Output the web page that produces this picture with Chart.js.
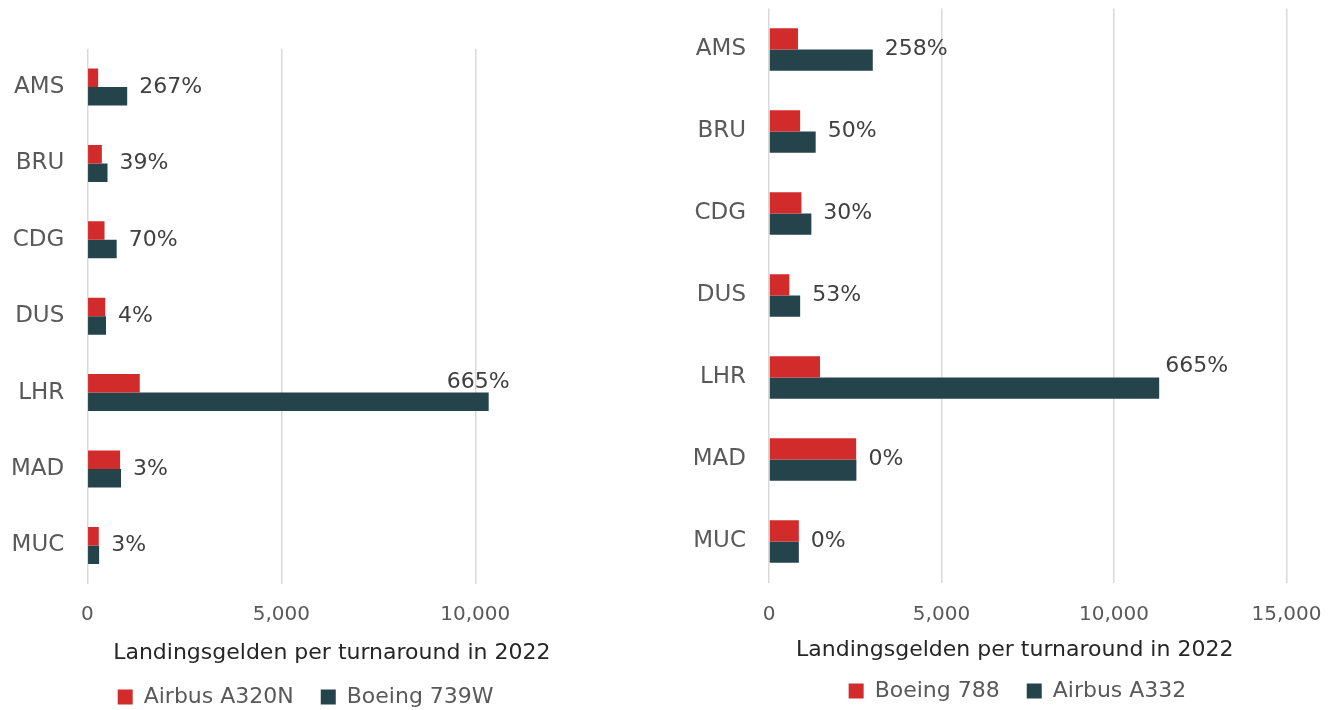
<!DOCTYPE html>
<html><head><meta charset="utf-8">
<script src="https://cdn.jsdelivr.net/npm/chart.js@4"></script>
<style>
html,body{margin:0;padding:0;background:#fff;overflow:hidden;width:1333px;height:710px;}
canvas{position:absolute;top:0;}
#c1{left:0;}
#c2{left:655px;}
</style></head><body>
<canvas id="c1" width="620" height="710"></canvas>
<canvas id="c2" width="678" height="710"></canvas>
<script>
// ---- data ----
const airports = ['AMS','BRU','CDG','DUS','LHR','MAD','MUC'];
const axisTitle = 'Landingsgelden per turnaround in 2022';

const narrowSeries = ['Airbus A320N','Boeing 739W'];
const narrowA320N = [280, 375, 444, 463, 1352, 845, 296];
const narrow739W = [1028, 521, 757, 482, 10345, 870, 305];
const narrowLabels = ['267%','39%','70%','4%','665%','3%','3%'];
const narrowTicks = [0, 5000, 10000];
const narrowMax = 12500;

const wideSeries = ['Boeing 788','Airbus A332'];
const wide788 = [840, 902, 940, 590, 1478, 2527, 865];
const wideA332 = [3008, 1353, 1228, 903, 11310, 2533, 865];
const wideLabels = ['258%','50%','30%','53%','665%','0%','0%'];
const wideTicks = [0, 5000, 10000, 15000];
const wideMax = 15000;

// ---- style ----
const RED = '#D22B2B';
const DARK = '#25434A';
const FONT = '"DejaVu Sans"';

const pctLabels = {
  id: 'pctLabels',
  afterLayout(chart, args, opts) {
    if (chart.legend && opts.legendDx) {
      chart.legend.left += opts.legendDx;
      chart.legend.right += opts.legendDx;
    }
    const sx = chart.scales.x;
    if (opts.titleDx && !sx._shifted) {
      const orig = sx.drawTitle;
      sx.drawTitle = function () {
        const ctx = this.ctx;
        ctx.save();
        ctx.translate(opts.titleDx, 0);
        orig.apply(this, arguments);
        ctx.restore();
      };
      sx._shifted = true;
    }
  },
  afterDatasetsDraw(chart, args, opts) {
    const ctx = chart.ctx;
    const m0 = chart.getDatasetMeta(0), m1 = chart.getDatasetMeta(1);
    const d0 = chart.data.datasets[0].data, d1 = chart.data.datasets[1].data;
    let maxI = 0;
    d1.forEach((v, i) => { if (Math.max(v, d0[i]) > Math.max(d1[maxI], d0[maxI])) maxI = i; });
    ctx.save();
    ctx.font = opts.size + 'px ' + FONT;
    ctx.fillStyle = opts.color;
    ctx.textBaseline = 'middle';
    opts.texts.forEach((t, i) => {
      const a = m0.data[i], b = m1.data[i];
      const end = Math.max(a.x, b.x);
      let x, y;
      if (i === maxI) {
        y = a.y - 1;
        ctx.textAlign = opts.outlierAlign;
        x = end + opts.outlierDx;
      } else {
        y = (a.y + b.y) / 2;
        ctx.textAlign = 'left';
        x = end + opts.pad;
      }
      ctx.fillText(t, x, y);
    });
    ctx.restore();
  }
};

function makeChart(id, c) {
  return new Chart(document.getElementById(id), {
    type: 'bar',
    data: {
      labels: airports,
      datasets: [
        { label: c.series[0], data: c.a, backgroundColor: RED, barPercentage: 1, categoryPercentage: c.cat },
        { label: c.series[1], data: c.b, backgroundColor: DARK, barPercentage: 1, categoryPercentage: c.cat }
      ]
    },
    plugins: [pctLabels],
    options: {
      indexAxis: 'y',
      responsive: false,
      animation: false,
      devicePixelRatio: 1,
      layout: { padding: { left: 0, right: c.pr, top: c.pt, bottom: c.pb } },
      scales: {
        x: {
          type: 'linear', min: 0, max: c.max,
          afterBuildTicks: s => { s.ticks = c.ticks.map(v => ({ value: v })); },
          ticks: { callback: v => v.toLocaleString('en-US'), color: '#595959', font: { size: 20, family: FONT }, padding: c.tickPad, maxRotation: 0, autoSkip: false },
          grid: { color: '#D9D9D9', lineWidth: 1.5, drawTicks: false },
          border: { display: false },
          title: { display: true, text: axisTitle, color: '#262626', font: { size: 22, family: FONT }, padding: { top: 0, bottom: c.tpb } },
          afterFit: s => { s.height = c.xh; s.paddingLeft = 0; s.paddingRight = 0; }
        },
        y: {
          grid: { display: false, drawTicks: false },
          border: { display: false },
          ticks: { color: '#595959', font: { size: 23, family: FONT }, padding: 23 },
          afterFit: s => { s.width = c.yw; s.paddingTop = 0; s.paddingBottom = 0; }
        }
      },
      plugins: {
        legend: {
          position: 'bottom',
          labels: { color: '#595959', font: { size: 22, family: FONT }, boxWidth: 15, boxHeight: 15, padding: 27 }
        },
        tooltip: { enabled: false },
        pctLabels: { texts: c.labels, size: 22, color: '#404040', pad: 12, outlierAlign: c.oAlign, outlierDx: c.oDx, legendDx: c.ldx, titleDx: c.tdx }
      }
    }
  });
}

makeChart('c1', {
  series: narrowSeries, a: narrowA320N, b: narrow739W, labels: narrowLabels,
  ticks: narrowTicks, max: narrowMax, cat: 0.484,
  pr: 47.7, pt: 48.8, pb: -8, yw: 87.3, xh: 75.4, tpb: -7.2, tickPad: 19.4,
  oAlign: 'right', oDx: 21, ldx: 19.5, tdx: 2
});
makeChart('c2', {
  series: wideSeries, a: wide788, b: wideA332, labels: wideLabels,
  ticks: wideTicks, max: wideMax, cat: 0.52,
  pr: 46.5, pt: 8.5, pb: -2, yw: 114, xh: 70.5, tpb: -10.2, tickPad: 20.5,
  oAlign: 'left', oDx: 6, ldx: 46.75, tdx: -13
});
</script>
</body></html>
